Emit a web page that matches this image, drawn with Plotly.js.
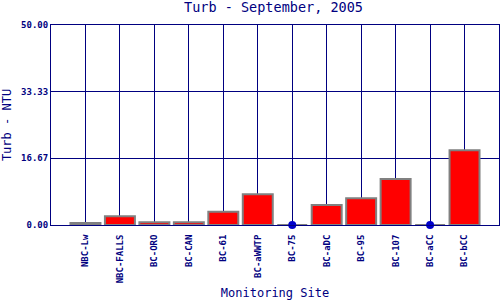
<!DOCTYPE html>
<html><head><meta charset="utf-8">
<script src="https://cdn.plot.ly/plotly-3.0.1.min.js"></script>
<style>html,body{margin:0;padding:0;background:#fff}#c{width:500px;height:300px}</style>
</head><body><div id="c"></div>
<script>
const sites = ["NBC-Lw","NBC-FALLS","BC-ORO","BC-CAN","BC-61","BC-aWWTP","BC-75","BC-aDC","BC-95","BC-107","BC-aCC","BC-bCC"];
const turb = [0.5, 2.2, 0.7, 0.7, 3.3, 7.7, null, 5.0, 6.7, 11.5, null, 18.7];
const yTicks = [0, 16.67, 33.33, 50];
const yTickText = ["0.00","16.67","33.33","50.00"];

const idx = sites.map((s,i)=>i);
const missIdx = idx.filter(i=>turb[i]===null);
const navy = "#000080";
const font = "DejaVu Sans Mono, Liberation Mono, monospace";

const traces = [
  {type:"bar", x: idx, y: turb.map(v=>v===null?0:v), width: 0.87,
   marker:{color:"#ff0000", line:{color:"#808080", width:2}}, hoverinfo:"none"},
  {type:"scatter", mode:"markers", x: missIdx, y: missIdx.map(()=>0),
   marker:{color:"#0000cc", size:8}, cliponaxis:false, hoverinfo:"none"}
];
const layout = {
  width:500, height:300, showlegend:false,
  paper_bgcolor:"#fff", plot_bgcolor:"#fff",
  margin:{l:51, r:1, t:25, b:75},
  title:{text:"Turb - September, 2005", font:{family:font, size:13.5, color:navy}, x:0.547, xanchor:"center", y:0.99, yanchor:"top"},
  xaxis:{range:[-1,12], tickvals: idx, ticktext: sites, tickangle:-90,
    tickfont:{family:font, size:9, color:navy, weight:"bold"}, showgrid:true, gridcolor:navy, gridwidth:1,
    showline:true, linecolor:navy, linewidth:1, mirror:true, zeroline:false,
    ticks:"outside", ticklen:5, tickcolor:"rgba(0,0,0,0)",
    title:{text:"Monitoring Site", font:{family:font, size:12, color:navy}, standoff:14}},
  yaxis:{range:[0,50], tickvals: yTicks, ticktext: yTickText,
    tickfont:{family:font, size:9, color:navy, weight:"bold"}, showgrid:true, gridcolor:navy, gridwidth:1,
    showline:true, linecolor:navy, linewidth:1, mirror:true, zeroline:false, ticks:"",
    title:{text:"Turb - NTU", font:{family:font, size:12, color:navy}, standoff:8}},
  bargap:0
};
Plotly.newPlot("c", traces, layout, {staticPlot:true, displayModeBar:false});
</script></body></html>
